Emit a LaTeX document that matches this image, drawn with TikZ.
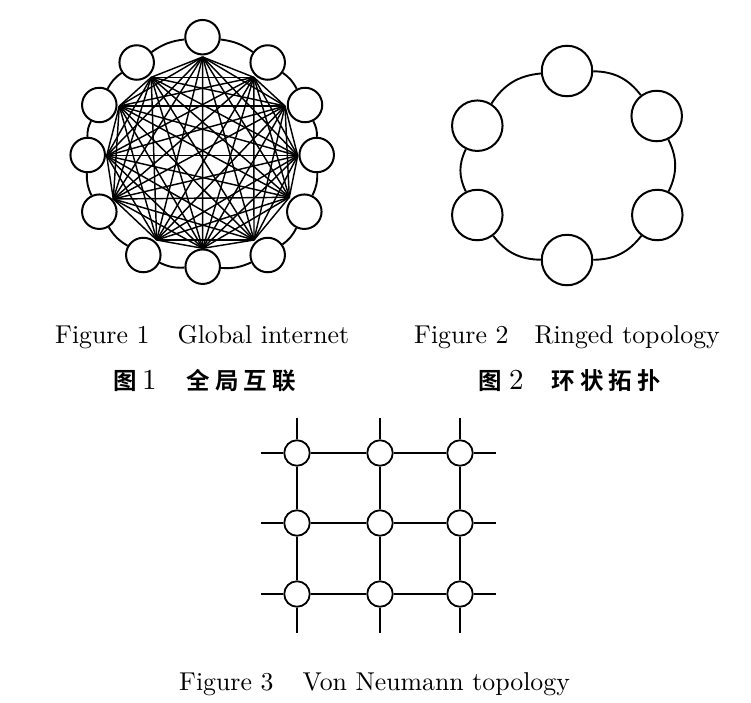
\documentclass[tikz,border=0pt]{standalone}
\usepackage{fontspec}
\newfontfamily\lmten{lmroman10-regular}[Extension=.otf]
\newfontfamily\cjk{Noto Sans CJK SC}[UprightFont={* Bold}]
\usetikzlibrary{calc}
\tikzset{
  bignode/.style={circle, draw, line width=2pt, fill=white, minimum size=34.5pt, inner sep=0pt},
  ringnode/.style={circle, draw, line width=2pt, fill=white, minimum size=50.5pt, inner sep=0pt},
  gridnode/.style={circle, draw, line width=1.8pt, fill=white, minimum size=25.5pt, inner sep=0pt},
  mesh/.style={line width=1.45pt},
  ringline/.style={line width=1.9pt},
  gridline/.style={line width=1.7pt},
  engcap/.style={anchor=base west, inner sep=0pt, font=\lmten\fontsize{25.8}{30}\selectfont},
  cjkcap/.style={anchor=base west, inner sep=0pt, font=\cjk\fontsize{23.5}{28}\selectfont},
}
\newcommand{\capdigit}[1]{{\lmten\fontsize{29}{30}\selectfont #1}}
\newcommand{\cjkgap}{\hspace{5.1pt}}
\begin{document}
\begin{tikzpicture}[x=1pt,y=-1pt]
\useasboundingbox (0,0) rectangle (751,702);
\fill[white] (0,0) rectangle (751,702);

% ---------- Figure 1 ----------
\foreach \i/\x/\y in {1/202.5/37.2, 2/267.7/62.5, 3/305/105, 4/316.7/155, 5/304.3/211.7, 6/267.7/255,
                      7/202.7/266.7, 8/143.3/255, 9/99.3/211.7, 10/87.7/155, 11/99.3/105, 12/136.7/62.5}
  \node[bignode] (n\i) at (\x,\y) {};
\foreach \i/\x/\y in {1/202.6/57, 2/253.8/77.3, 3/285/106, 4/297.7/155.7, 5/289.3/197.3, 6/254/240,
                      7/202.7/248.3, 8/156.7/240, 9/113.3/199, 10/106.7/155.7, 11/119.3/106, 12/151.2/77.3}
  \coordinate (h\i) at (\x,\y);
\foreach \i in {1,...,11}{
  \pgfmathtruncatemacro\s{\i+1}
  \foreach \j in {\s,...,12}
    \draw[mesh] (h\i) -- (h\j);
}
\foreach \i/\j in {1/2,2/3,3/4,4/5,5/6,6/7,7/8,8/9,9/10,10/11,11/12,12/1}
  \draw[ringline] (n\i) to[bend left=14] (n\j);

% ---------- Figure 2 ----------
\foreach \i/\x/\y in {1/567/71, 2/656.7/116, 3/657.3/215, 4/567/260, 5/477.3/215, 6/477.3/125.7}
  \node[ringnode] (r\i) at (\x,\y) {};
\foreach \i/\j in {1/2,2/3,3/4,4/5,5/6,6/1}
  \draw[ringline] (r\i) to[bend left=26] (r\j);

% ---------- Figure 3 ----------
\foreach \r/\y in {1/453, 2/523, 3/594}
  \foreach \c/\x in {1/297, 2/380, 3/460}
    \node[gridnode] (g\r\c) at (\x,\y) {};
\foreach \r/\y in {1/453, 2/523, 3/594}{
  \coordinate (gl\r) at (261,\y);
  \coordinate (gr\r) at (496,\y);
}
\foreach \c/\x in {1/297, 2/380, 3/460}{
  \coordinate (gt\c) at (\x,418);
  \coordinate (gb\c) at (\x,633);
}
\foreach \r in {1,2,3}{
  \draw[gridline] (gl\r) -- (g\r1) -- (g\r2) -- (g\r3) -- (gr\r);
}
\foreach \c in {1,2,3}{
  \draw[gridline] (gt\c) -- (g1\c) -- (g2\c) -- (g3\c) -- (gb\c);
}

% ---------- Captions ----------
\node[engcap] (cap1) at (55,343) {Figure 1\hspace{28pt}Global internet};
\node[engcap] (cap2) at (414,343) {Figure 2\hspace{26pt}Ringed topology};
\node[engcap] (cap3) at (179,690) {Figure 3\hspace{29pt}Von Neumann topology};
\node[cjkcap] (zh1) at (113,389.5) {图\hspace{5.5pt}\capdigit{1}\hspace{30pt}全\cjkgap 局\cjkgap 互\cjkgap 联};
\node[cjkcap] (zh2) at (478.3,389.5) {图\hspace{7.1pt}\capdigit{2}\hspace{27.8pt}环\cjkgap 状\cjkgap 拓\cjkgap 扑};
\end{tikzpicture}
\end{document}
